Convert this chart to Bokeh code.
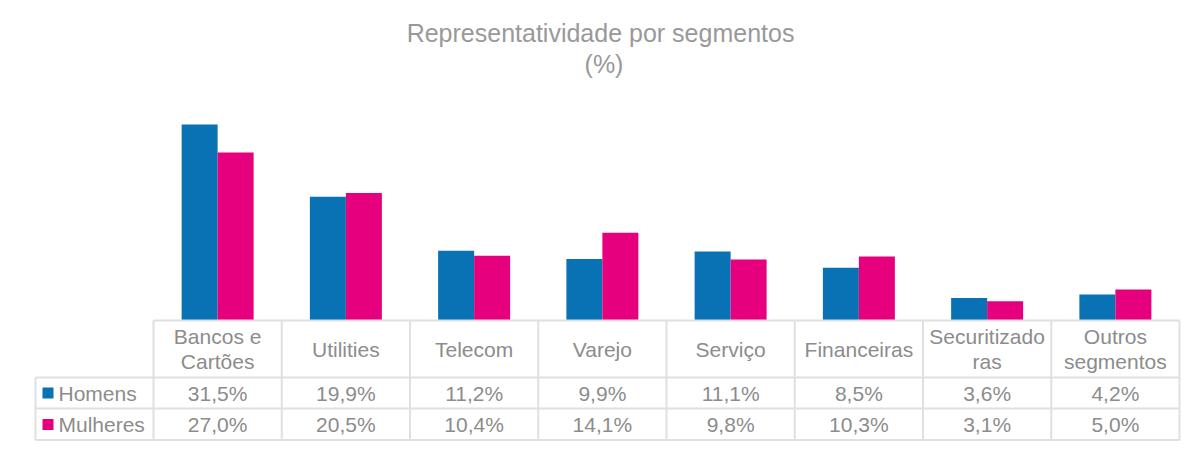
from bokeh.plotting import figure
from bokeh.models import Range1d
from bokeh.core.properties import value
from bokeh.embed import file_html
from bokeh.resources import INLINE

# ---- data ----
categories = ["Bancos e\nCartões", "Utilities", "Telecom", "Varejo", "Serviço",
              "Financeiras", "Securitizado\nras", "Outros\nsegmentos"]
homens = [31.5, 19.9, 11.2, 9.9, 11.1, 8.5, 3.6, 4.2]
mulheres = [27.0, 20.5, 10.4, 14.1, 9.8, 10.3, 3.1, 5.0]
series_names = ["Homens", "Mulheres"]
title_lines = ["Representatividade  por segmentos", "(%)"]

# ---- layout helpers (page pixels -> data) ----
W, H = 1200, 448
OFF = 0
X0 = 153.0          # left edge of first category column (page px)
CW = 128.25         # column width (px)
Y0 = 320.0          # baseline (page px)
K = 6.22            # px per percentage point

def fx(px):
    return (px - X0) / CW

def fy(py):
    return (Y0 - py) / K

BLUE = "#0872B5"
MAG = "#E6007E"
TXT = "#8C8C8C"
GRID = "#E0E0E0"
FONT = "Liberation Sans"

p = figure(width=W, height=H, output_backend="svg", toolbar_location=None,
           x_range=Range1d(fx(OFF), fx(OFF + W)),
           y_range=Range1d(fy(OFF + H), fy(OFF)),
           min_border=0, outline_line_color=None)
p.axis.visible = False
p.grid.visible = False
p.background_fill_color = "white"
p.border_fill_color = "white"

n = len(categories)
bw = 36.0 / CW
xs = [i + 0.5 for i in range(n)]

p.vbar(x=[x - bw / 2 for x in xs], top=homens, bottom=0, width=bw,
       fill_color=BLUE, line_color=None)
p.vbar(x=[x + bw / 2 for x in xs], top=mulheres, bottom=0, width=bw,
       fill_color=MAG, line_color=None)

# ---- table grid ----
row_y = [320, 377, 408, 439.5]
left_px = 35
right_px = X0 + n * CW
segs_x0, segs_y0, segs_x1, segs_y1 = [], [], [], []
segs_x0.append(fx(X0)); segs_x1.append(fx(right_px)); segs_y0.append(fy(row_y[0])); segs_y1.append(fy(row_y[0]))
for ry in row_y[1:]:
    segs_x0.append(fx(left_px)); segs_x1.append(fx(right_px)); segs_y0.append(fy(ry)); segs_y1.append(fy(ry))
segs_x0.append(fx(left_px)); segs_x1.append(fx(left_px)); segs_y0.append(fy(row_y[1])); segs_y1.append(fy(row_y[3]))
for i in range(n + 1):
    xx = fx(X0 + i * CW)
    segs_x0.append(xx); segs_x1.append(xx); segs_y0.append(fy(row_y[0])); segs_y1.append(fy(row_y[3]))
p.segment(x0=segs_x0, y0=segs_y0, x1=segs_x1, y1=segs_y1, line_color=GRID, line_width=2)

# ---- header labels ----
hx, hy, ht = [], [], []
for i, c in enumerate(categories):
    lines = c.split("\n")
    if len(lines) == 1:
        hx.append(xs[i]); hy.append(fy(348.5)); ht.append(lines[0])
    else:
        hx.append(xs[i]); hy.append(fy(336)); ht.append(lines[0])
        hx.append(xs[i]); hy.append(fy(361)); ht.append(lines[1])
p.text(x=hx, y=hy, text=ht, text_align="center", text_baseline="middle",
       text_font=value(FONT), text_font_size="21px", text_color=TXT)

# ---- values ----
def fmt(v):
    return f"{v:.1f}".replace(".", ",") + "%"

row_centers = [392.5, 424]
for r, vals in enumerate([homens, mulheres]):
    p.text(x=xs, y=[fy(row_centers[r])] * n, text=[fmt(v) for v in vals],
           text_align="center", text_baseline="middle",
           text_font=value(FONT), text_font_size="21px", text_color=TXT)

# ---- legend in table ----
for r, (name, col) in enumerate(zip(series_names, [BLUE, MAG])):
    cy = row_centers[r]
    p.rect(x=[fx(47.5)], y=[fy(cy)], width=11 / CW, height=11 / K,
           fill_color=col, line_color=None)
    p.text(x=[fx(58)], y=[fy(cy)], text=[name], text_align="left", text_baseline="middle",
           text_font=value(FONT), text_font_size="21px", text_color=TXT)

# ---- title ----
p.text(x=[fx(603.5)] * 2, y=[fy(32), fy(63.5)], text=title_lines,
       text_align="center", text_baseline="middle",
       text_font=value(FONT), text_font_size="25px", text_color="#999999")

open("out.html", "w").write(file_html(p, INLINE))
